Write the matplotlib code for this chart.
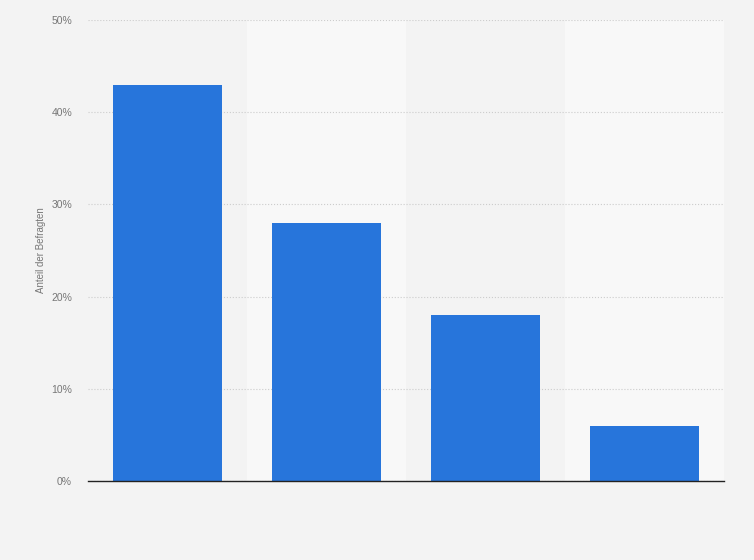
import matplotlib.pyplot as plt
from matplotlib.ticker import FuncFormatter

plt.rcParams['font.family'] = ['Liberation Sans', 'DejaVu Sans']

categories = ['', '', '', '']
values = [43, 28, 18, 6]
yticks = [0, 10, 20, 30, 40, 50]

fig = plt.figure(figsize=(7.54, 5.6), dpi=100)
fig.patch.set_facecolor('#f3f3f3')
ax = fig.add_axes([88 / 754, 79 / 560, 636 / 754, 461 / 560])
ax.set_facecolor('#f3f3f3')

x = list(range(len(categories)))
# alternating column bands
for i in x:
    if i % 2 == 1:
        ax.axvspan(i - 0.5, i + 0.5, color='#f8f8f8', zorder=0, lw=0)

ax.bar(x, values, width=0.685, color='#2775db', zorder=3)

ax.set_xlim(-0.5, len(categories) - 0.5)
ax.set_ylim(0, 50)
ax.set_yticks(yticks)
ax.yaxis.set_major_formatter(FuncFormatter(lambda v, p: f'{int(v)}%'))
ax.set_xticks(x)
ax.set_xticklabels(categories)
ax.tick_params(axis='both', length=0, labelsize=7.5, colors='#777777', pad=11.5)
ax.grid(axis='y', color='#cccccc', linestyle=':', linewidth=0.8, zorder=1)

for s in ['top', 'right', 'left']:
    ax.spines[s].set_visible(False)
ax.spines['bottom'].set_color('#222222')
ax.spines['bottom'].set_linewidth(1)
ax.spines['bottom'].set_zorder(4)

ax.set_ylabel('Anteil der Befragten', fontsize=7, color='#777777', labelpad=4)

fig.savefig('out.png', dpi=100, facecolor=fig.get_facecolor())
